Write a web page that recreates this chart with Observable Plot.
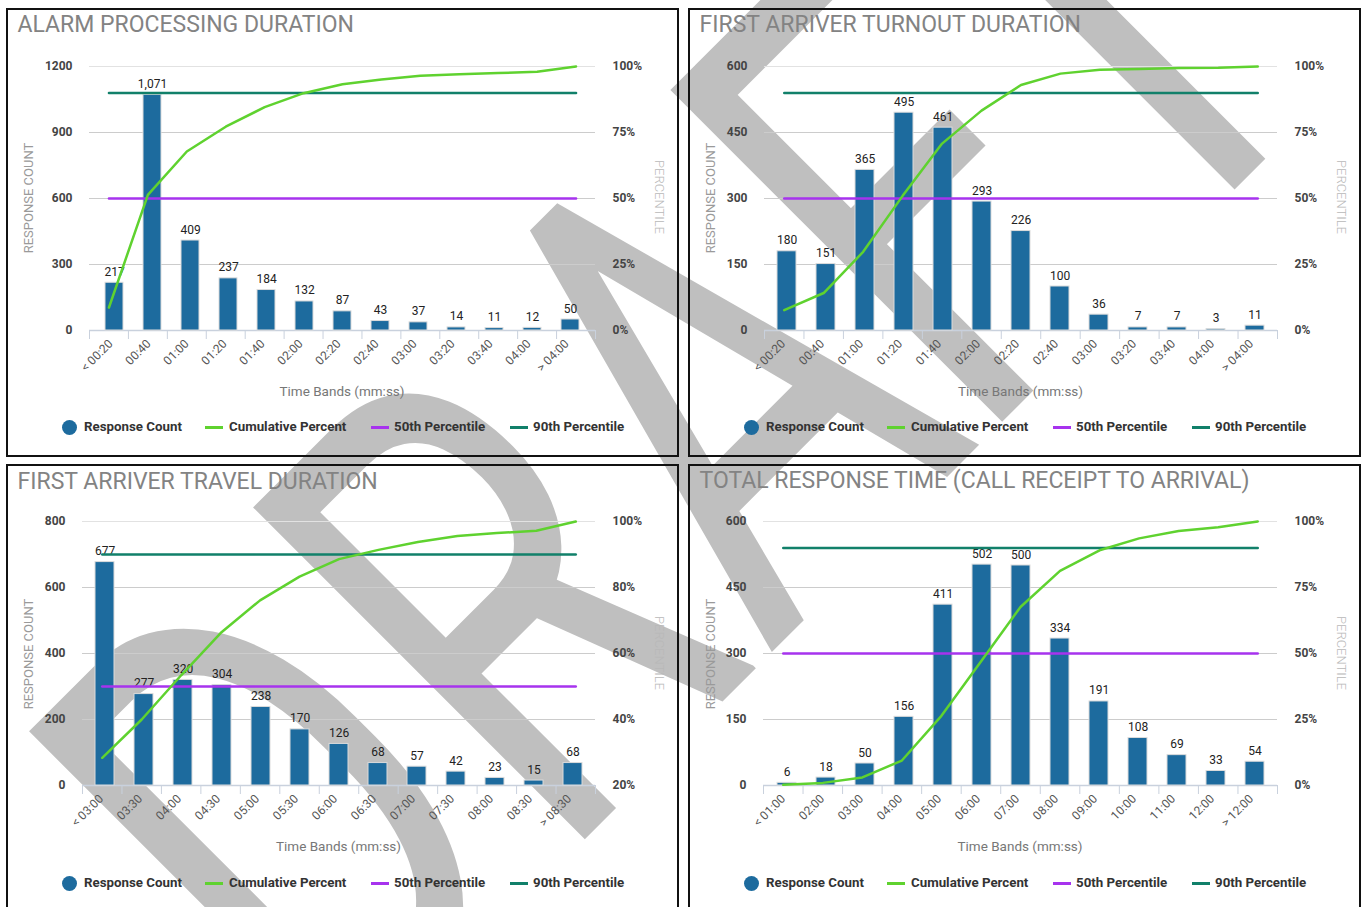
<!DOCTYPE html>
<html>
<head>
<meta charset="utf-8">
<script src="https://cdn.jsdelivr.net/npm/d3@7"></script>
<script src="https://cdn.jsdelivr.net/npm/@observablehq/plot@0.6"></script>
<style>
  html, body { margin: 0; padding: 0; background: #fff; }
  #root { position: relative; width: 1361px; height: 907px; overflow: hidden; font-family: Roboto, sans-serif; }
  .panel { position: absolute; box-sizing: border-box; width: 673px; height: 449px; border: 2px solid #111; background: transparent; }
  .abs { position: absolute; white-space: nowrap; line-height: 1; }
  .title { font-size: 23px; color: #838383; }
  .ytitle { font-size: 13px; color: #9a9a9a; }
  .ptitle { font-size: 13px; color: #b8b8b8; font-weight: 300; }
  .xtitle { font-size: 13.5px; color: #777; }
  .leg { font-size: 13.3px; color: #333; font-weight: 700; }
  .plotwrap { position: absolute; left: 0; top: 0; width: 669px; height: 400px; }
  .plotwrap svg { position: absolute; left: 0; top: 0; max-width: none !important; width: 669px; height: 400px; }
</style>
</head>
<body>
<div id="root">
  <svg id="wm" width="1361" height="907" style="position:absolute;left:0;top:0">
    <text transform="translate(330,1094) rotate(-45) scale(0.71,1)" font-family="Roboto" font-size="660" fill="#bfbfbf"><tspan dx="7">D</tspan><tspan dx="13">R</tspan><tspan dx="11">A</tspan><tspan dx="-17">F</tspan><tspan dx="-14">T</tspan></text>
  </svg>
</div>
<script>
// ---------- data ----------
const alarmBands = ["< 00:20","00:40","01:00","01:20","01:40","02:00","02:20","02:40","03:00","03:20","03:40","04:00","> 04:00"];
const alarmCounts = [217,1071,409,237,184,132,87,43,37,14,11,12,50];
const alarmCumPct = [8.7,51.4,67.8,77.2,84.6,89.9,93.3,95.1,96.5,97.1,97.5,98.0,100];
const alarmCountTicks = [0,300,600,900,1200];

const turnoutBands = ["< 00:20","00:40","01:00","01:20","01:40","02:00","02:20","02:40","03:00","03:20","03:40","04:00","> 04:00"];
const turnoutCounts = [180,151,365,495,461,293,226,100,36,7,7,3,11];
const turnoutCumPct = [7.7,14.2,29.8,51.0,70.8,83.3,93.0,97.3,98.8,99.1,99.4,99.5,100];
const turnoutCountTicks = [0,150,300,450,600];

const travelBands = ["< 03:00","03:30","04:00","04:30","05:00","05:30","06:00","06:30","07:00","07:30","08:00","08:30","> 08:30"];
const travelCounts = [677,277,320,304,238,170,126,68,57,42,23,15,68];
const travelCumPct = [28.4,40.0,53.4,66.2,76.1,83.3,88.6,91.4,93.8,95.6,96.5,97.2,100];
const travelCountTicks = [0,200,400,600,800];

const totalBands = ["< 01:00","02:00","03:00","04:00","05:00","06:00","07:00","08:00","09:00","10:00","11:00","12:00","> 12:00"];
const totalCounts = [6,18,50,156,411,502,500,334,191,108,69,33,54];
const totalCumPct = [0.25,0.99,3.04,9.46,26.4,47.0,67.6,81.3,89.1,93.6,96.4,97.8,100];
const totalCountTicks = [0,150,300,450,600];

const pctTicks = [0,25,50,75,100];
const travelPctTicks = [20,40,60,80,100];
const percentileLevels = [50, 90];

const titles = ["ALARM PROCESSING DURATION","FIRST ARRIVER TURNOUT DURATION","FIRST ARRIVER TRAVEL DURATION","TOTAL RESPONSE TIME (CALL RECEIPT TO ARRIVAL)"];
const legendLabels = ["Response Count","Cumulative Percent","50th Percentile","90th Percentile"];

// ---------- styles ----------
const BAR = "#1d6b9e", GREEN = "#5fd22f", PURPLE = "#a733ee", TEAL = "#11806a";
const fmt = d3.format(",");

const panels = [
  {left: 6, top: 8, title: titles[0], bands: alarmBands, counts: alarmCounts, cum: alarmCumPct, cTicks: alarmCountTicks, pTicks: pctTicks, ml: 81, mt: 56, yb: 320, tb: 22},
  {left: 688, top: 8, title: titles[1], bands: turnoutBands, counts: turnoutCounts, cum: turnoutCumPct, cTicks: turnoutCountTicks, pTicks: pctTicks, ml: 74, mt: 56, yb: 320, tb: 22},
  {left: 6, top: 464, title: titles[2], bands: travelBands, counts: travelCounts, cum: travelCumPct, cTicks: travelCountTicks, pTicks: travelPctTicks, ml: 74, mt: 55, yb: 319, tb: 23},
  {left: 688, top: 464, title: titles[3], bands: totalBands, counts: totalCounts, cum: totalCumPct, cTicks: totalCountTicks, pTicks: pctTicks, ml: 73, mt: 55, yb: 319, tb: 22}
];

const root = document.getElementById("root");
const W = 669, H = 400, MR = 82;

function addText(parent, cls, text, left, baseline, fs) {
  const d = document.createElement("div");
  d.className = "abs " + cls;
  d.textContent = text;
  d.style.left = left + "px";
  d.style.top = (baseline - 0.842 * fs) + "px";
  parent.appendChild(d);
  return d;
}
function addRotated(parent, cls, text, cx, cy, deg) {
  const d = document.createElement("div");
  d.className = "abs " + cls;
  d.textContent = text;
  d.style.left = cx + "px";
  d.style.top = cy + "px";
  d.style.transform = `translate(-50%,-50%) rotate(${deg}deg)`;
  parent.appendChild(d);
}

for (const p of panels) {
  const el = document.createElement("div");
  el.className = "panel";
  el.style.left = p.left + "px";
  el.style.top = p.top + "px";
  root.appendChild(el);

  const n = p.bands.length;
  const rows = p.bands.map((b, i) => ({band: b, count: p.counts[i], cum: p.cum[i], pos: i + 0.5}));
  const cMax = p.cTicks[p.cTicks.length - 1];
  const pMin = p.pTicks[0], pMax = p.pTicks[p.pTicks.length - 1];
  const common = {
    width: W, height: H,
    marginLeft: p.ml, marginRight: MR, marginTop: p.mt, marginBottom: H - p.yb,
    style: {background: "transparent", fontFamily: "Roboto", fontSize: "12px", overflow: "visible"}
  };

  const base = Plot.plot({
    ...common,
    x: {type: "band", domain: p.bands, paddingInner: 0.52, paddingOuter: 0.26, axis: null, label: null},
    y: {domain: [0, cMax], axis: null, label: null},
    marks: [
      Plot.gridY(p.cTicks.slice(1, -1), {stroke: "#cccccc", strokeOpacity: 1}),
      Plot.gridY([cMax], {stroke: "#e2e2e2", strokeOpacity: 1}),
      Plot.axisY(p.cTicks, {tickSize: 0, tickPadding: 17, tickFormat: d => String(d), fontWeight: "bold", color: "#444", fontSize: 12, label: null}),
      Plot.ruleY([0], {stroke: "#c9d1dd", strokeWidth: 1.5}),
      Plot.barY(rows, {x: "band", y: "count", fill: BAR, stroke: "#dcdcdc", strokeWidth: 1}),
      Plot.text(rows, {x: "band", y: "count", text: d => fmt(d.count), dy: -7, lineAnchor: "bottom", fill: "#222", fontSize: 12}),
      Plot.text(p.bands, {x: d => d, frameAnchor: "bottom", rotate: -45, textAnchor: "end", dy: 14, dx: -1, fill: "#555", fontSize: 12})
    ]
  });

  const levelRows = percentileLevels.flatMap(l => [{level: l, pos: rows[0].pos}, {level: l, pos: rows[n - 1].pos}]);
  const over = Plot.plot({
    ...common,
    x: {domain: [0, n], axis: null, label: null},
    y: {domain: [pMin, pMax], axis: null, label: null},
    marks: [
      Plot.axisX(d3.range(n + 1), {tickSize: 9, tickFormat: () => "", color: "#c9d1dd", label: null}),
      Plot.axisY(p.pTicks, {anchor: "right", tickSize: 0, tickPadding: 17, tickFormat: d => d + "%", fontWeight: "bold", color: "#444", fontSize: 12, label: null}),
      Plot.line(levelRows.filter(d => d.level === 50), {x: "pos", y: "level", stroke: PURPLE, strokeWidth: 2.5}),
      Plot.line(levelRows.filter(d => d.level === 90), {x: "pos", y: "level", stroke: TEAL, strokeWidth: 2.5}),
      Plot.line(rows, {x: "pos", y: "cum", stroke: GREEN, strokeWidth: 2.5})
    ]
  });

  const wrap = document.createElement("div");
  wrap.className = "plotwrap";
  wrap.appendChild(base);
  wrap.appendChild(over);
  el.appendChild(wrap);

  // titles and labels
  addText(el, "title", p.title, 9.5, p.tb, 23);
  addRotated(el, "ytitle", "RESPONSE COUNT", 20, 187.5, -90);
  addRotated(el, "ptitle", "PERCENTILE", 650.5, 187, 90);
  const xt = addText(el, "xtitle", "Time Bands (mm:ss)", 0, p.yb + 66, 13.5);
  xt.style.left = (p.ml + (W - MR - p.ml) / 2) + "px";
  xt.style.transform = "translateX(-50%)";

  // legend
  const cy = 417;
  const dot = document.createElement("div");
  dot.className = "abs";
  Object.assign(dot.style, {left: "53.5px", top: (cy - 7.5) + "px", width: "15px", height: "15px", borderRadius: "50%", background: BAR});
  el.appendChild(dot);
  addText(el, "leg", legendLabels[0], 76, cy + 4.5, 13.3);
  const sw = [[197, GREEN, legendLabels[1], 221], [363, PURPLE, legendLabels[2], 386], [502, TEAL, legendLabels[3], 525]];
  for (const [x, c, lab, tx] of sw) {
    const s = document.createElement("div");
    s.className = "abs";
    Object.assign(s.style, {left: x + "px", top: (cy - 1.5) + "px", width: "18px", height: "3px", background: c});
    el.appendChild(s);
    addText(el, "leg", lab, tx, cy + 4.5, 13.3);
  }
}
</script>
</body>
</html>
